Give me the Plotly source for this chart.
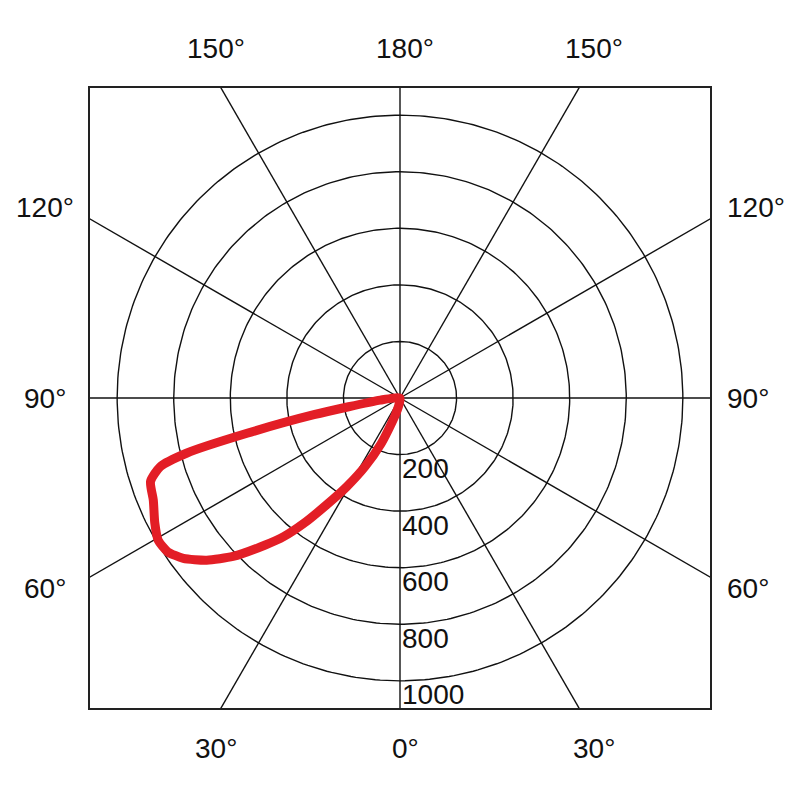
import numpy as np
import plotly.graph_objects as go

# Luminous intensity distribution (gamma angle in degrees, intensity in cd), left half-plane
gamma = [0, 7, 13, 18, 22.5, 27, 31, 34.5, 37.5, 40, 42.5, 46.5, 50, 53.5, 56.5, 59.5,
         63, 67.5, 71.5, 74, 75.5, 77, 79, 84, 90]
intensity = [0, 18, 45, 88, 175, 272, 366, 458, 559, 640, 705, 814, 892, 953, 985, 992,
             973, 944, 930, 882, 780, 555, 310, 70, 0]

ring_values = [200, 400, 600, 800, 1000]
spoke_angles = list(range(0, 360, 30))
top_labels = ["150°", "180°", "150°"]
side_labels = ["120°", "90°", "60°"]
bottom_labels = ["30°", "0°", "30°"]

R_BOX = 1096  # half-size of square frame in intensity units
FONT = dict(family="Liberation Sans, Arial, sans-serif", size=28, color="#111111")

fig = go.Figure()

# rings
t = np.linspace(0, 2 * np.pi, 361)
for rv in ring_values:
    fig.add_trace(go.Scatter(x=rv * np.sin(t), y=rv * np.cos(t), mode="lines",
                             line=dict(color="#111111", width=1.4),
                             hoverinfo="skip", showlegend=False))

# spokes (clipped by the axes frame)
sx, sy = [], []
for a in spoke_angles:
    ar = np.radians(a)
    sx += [0, 2 * R_BOX * np.sin(ar), None]
    sy += [0, -2 * R_BOX * np.cos(ar), None]
fig.add_trace(go.Scatter(x=sx, y=sy, mode="lines", line=dict(color="#111111", width=1.4),
                         hoverinfo="skip", showlegend=False))

# intensity curve: 0 deg points down, angles increase toward the left
g = np.radians(gamma)
I = np.array(intensity, dtype=float)
cx = -I * np.sin(g)
cy = -I * np.cos(g)
fig.add_trace(go.Scatter(x=cx, y=cy, mode="lines",
                         line=dict(color="#E31E26", width=9, shape="spline", smoothing=0.6),
                         hoverinfo="skip", showlegend=False))

ann = []
# ring labels
for rv in ring_values:
    ann.append(dict(x=0, y=-rv, xref="x", yref="y", text=str(rv), showarrow=False,
                    xanchor="left", yanchor="middle", xshift=0, yshift=-14, font=FONT))

off = R_BOX * np.tan(np.radians(30))
lab_off = off + 35
# top labels
for xv, txt in zip([-lab_off, 0, lab_off], top_labels):
    ann.append(dict(x=xv, y=1, xref="x", yref="paper", text=txt, showarrow=False,
                    xanchor="center", yanchor="middle", xshift=5, yshift=40, font=FONT))
# bottom labels
for xv, txt in zip([-lab_off, 0, lab_off], bottom_labels):
    ann.append(dict(x=xv, y=0, xref="x", yref="paper", text=txt, showarrow=False,
                    xanchor="center", yanchor="middle", xshift=5, yshift=-40, font=FONT))
# side labels
for yv, txt in zip([off + 40, 0, -off - 40], side_labels):
    ann.append(dict(x=0, y=yv, xref="paper", yref="y", text=txt, showarrow=False,
                    xanchor="center", yanchor="middle", xshift=-45, font=FONT))
    ann.append(dict(x=1, y=yv, xref="paper", yref="y", text=txt, showarrow=False,
                    xanchor="left", yanchor="middle", xshift=15, font=FONT))

axis_common = dict(range=[-R_BOX, R_BOX], showgrid=False, zeroline=False, showticklabels=False,
                   ticks="", showline=True, mirror=True, linecolor="#222222", linewidth=1.8,
                   fixedrange=True)
fig.update_layout(
    width=800, height=800,
    margin=dict(l=82, r=98, t=80, b=100),
    paper_bgcolor="white", plot_bgcolor="white",
    xaxis=axis_common, yaxis=axis_common,
    annotations=ann,
    showlegend=False,
)
fig.write_html("out.html")
